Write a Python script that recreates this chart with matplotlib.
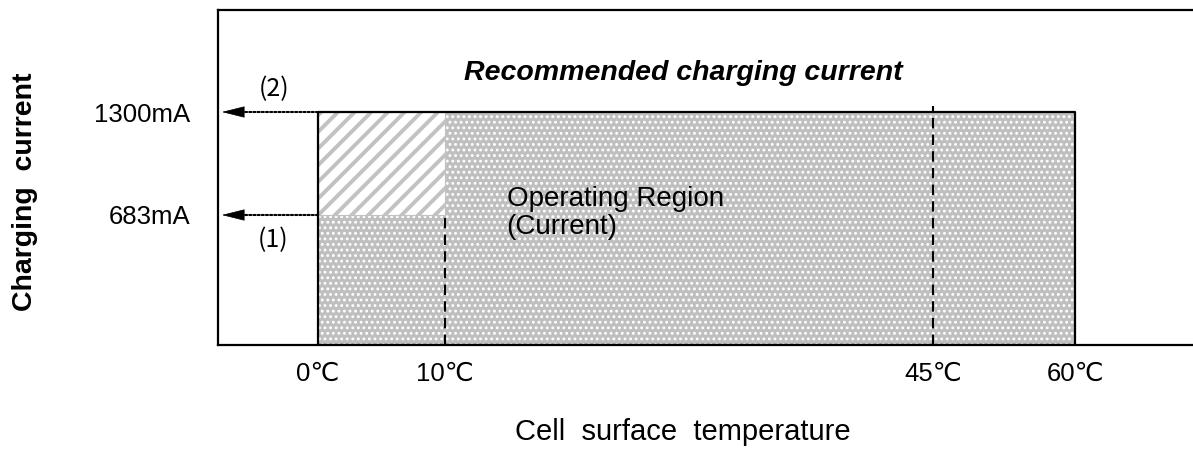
import numpy as np
import matplotlib
matplotlib.use('Agg')
import matplotlib.pyplot as plt

# chart data
temp_ticks = [0, 10, 45, 60]
temp_labels = ['0℃', '10℃', '45℃', '60℃']
current_ticks = [683, 1300]
current_labels = ['683mA', '1300mA']
region_temp = [0, 60]
region_current = [0, 1300]
hatch_temp = [0, 10]
hatch_current = [683, 1300]
dashed_temp = [10, 45]
dashed_bottom = [0, 0]
dashed_top = [683, 1330]
arrow_names = ['(1)', '(2)']

# the drawing is a schematic, so both axes are stretched piecewise
x_breaks = [-8, 0, 10, 45, 60, 80]
x_pos = [0, 100, 227, 715, 857, 975]
y_breaks = [0, 683, 1300, 1800]
y_pos = [0, 130, 233, 335]


def piecewise(src, dst):
    return lambda v: np.interp(v, src, dst)


plt.rcParams['font.family'] = ['Liberation Sans', 'DejaVu Sans']

W, H = 1193, 453
fig = plt.figure(figsize=(W / 100, H / 100), dpi=100)
ax = fig.add_axes([218 / W, 108 / H, 975 / W, 335 / H])

ax.set_xscale('function', functions=(piecewise(x_breaks, x_pos), piecewise(x_pos, x_breaks)))
ax.set_yscale('function', functions=(piecewise(y_breaks, y_pos), piecewise(y_pos, y_breaks)))
ax.set_xlim(x_breaks[0], x_breaks[-1])
ax.set_ylim(y_breaks[0], y_breaks[-1])

# operating region: grey with white dots
plt.rcParams['hatch.linewidth'] = 1.3
ax.fill_between(region_temp, region_current[0], region_current[1],
                facecolor='#bfbfbf', edgecolor='white', hatch='...', linewidth=0, zorder=1)

# low temperature region: diagonal stripes
plt.rcParams['hatch.linewidth'] = 2.8
ax.fill_between(hatch_temp, hatch_current[0], hatch_current[1],
                facecolor='white', edgecolor='#c2c2c2', hatch='//', linewidth=0.8, zorder=2)

ax.fill_between(region_temp, region_current[0], region_current[1],
                facecolor='none', edgecolor='black', linewidth=1.6, zorder=4)

ax.vlines(dashed_temp, dashed_bottom, dashed_top, colors='black',
          linestyles=(0, (5, 3)), linewidth=1.5, zorder=3)

# arrows from the region to the current axis
for c in current_ticks:
    ax.annotate('', xy=(0.012, c), xycoords=('axes fraction', 'data'),
                xytext=(0, c), textcoords='data',
                arrowprops=dict(arrowstyle='-', linestyle=(0, (1, 1)), lw=1.5,
                                color='black', shrinkA=0, shrinkB=0))
    ax.annotate('', xy=(0.004, c), xycoords=('axes fraction', 'data'),
                xytext=(0.026, c), textcoords=('axes fraction', 'data'),
                arrowprops=dict(arrowstyle='-|>,head_length=0.6,head_width=0.15',
                                color='black', lw=0.5, mutation_scale=25,
                                shrinkA=0, shrinkB=0))

ax.text(0.056, 0.313, arrow_names[0], transform=ax.transAxes, ha='center', va='center',
        fontsize=18, family=['Noto Sans CJK JP', 'DejaVu Sans'])
ax.text(0.058, 0.765, arrow_names[1], transform=ax.transAxes, ha='center', va='center',
        fontsize=18, family=['Noto Sans CJK JP', 'DejaVu Sans'])

ax.set_xticks(temp_ticks, temp_labels, fontsize=18.5)
ax.set_yticks(current_ticks, current_labels, fontsize=18.5)
ax.minorticks_off()
ax.tick_params(axis='x', length=0, pad=12)
ax.tick_params(axis='y', length=0, pad=20)

for side in ['left', 'top', 'bottom']:
    ax.spines[side].set_linewidth(1.6)
ax.spines['right'].set_visible(False)

ax.text(0.477, 0.812, 'Recommended charging current', transform=ax.transAxes,
        ha='center', va='center', fontsize=20.5, fontweight='bold', fontstyle='italic')
ax.text(0.296, 0.475, 'Operating Region\n(Current)', transform=ax.transAxes,
        ha='left', va='top', fontsize=20, linespacing=1.1, zorder=5)

fig.text(683 / W, 1 - 432 / H, 'Cell  surface  temperature', ha='center', va='center', fontsize=21)
fig.text(25 / W, 1 - 192 / H, 'Charging  current', ha='center', va='center',
         rotation=90, fontsize=20.5, fontweight='bold')

fig.savefig('out.png', dpi=100)
